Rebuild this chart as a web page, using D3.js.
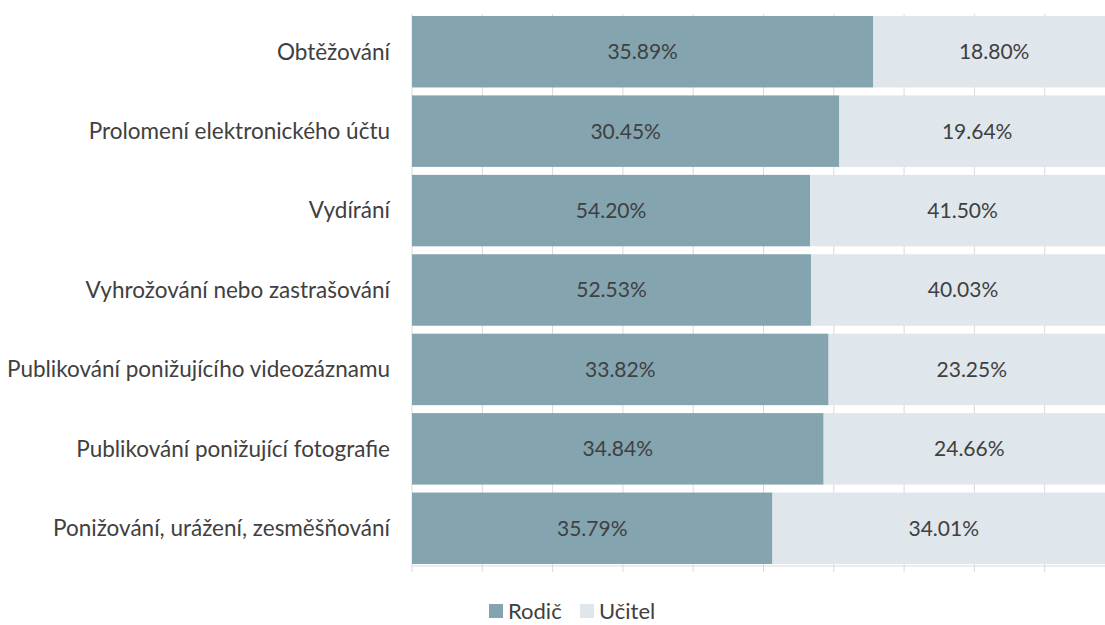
<!DOCTYPE html>
<html>
<head>
<meta charset="utf-8">
<script src="https://cdn.jsdelivr.net/npm/d3@7"></script>
<style>
  body { margin: 0; background: #fff; }
  svg { display: block; overflow: hidden; }
  text { font-family: Lato, "Open Sans", sans-serif; fill: #404040; }
</style>
</head>
<body>
<svg width="1105" height="625"></svg>
<script>
var categories = [
    "Obtěžování",
    "Prolomení elektronického účtu",
    "Vydírání",
    "Vyhrožování nebo zastrašování",
    "Publikování ponižujícího videozáznamu",
    "Publikování ponižující fotografie",
    "Ponižování, urážení, zesměšňování"
];
var rodic = [35.89, 30.45, 54.20, 52.53, 33.82, 34.84, 35.79];
var ucitel = [18.80, 19.64, 41.50, 40.03, 23.25, 24.66, 34.01];
var seriesNames = ["Rodič", "Učitel"];
var colors = ["#84a4b0", "#dfe6ec"];

var svg = d3.select("svg");
var plotLeft = 412, plotRight = 1115, plotTop = 14, plotBottom = 566;

var data = categories.map(function(c, i) {
    var total = rodic[i] + ucitel[i];
    return { cat: c, r: rodic[i], u: ucitel[i], rs: rodic[i] / total, us: ucitel[i] / total };
});

var x = d3.scaleLinear().domain([0, 1]).range([plotLeft, plotRight]);
var y = d3.scaleBand().domain(categories).range([plotTop, plotBottom]).paddingInner(0.1).paddingOuter(0.025);

// gridlines
svg.append("g")
    .selectAll("line")
    .data(d3.range(0, 1.0001, 0.1))
    .enter().append("line")
    .attr("x1", function(d) { return x(d); })
    .attr("x2", function(d) { return x(d); })
    .attr("y1", plotTop)
    .attr("y2", plotBottom + 6)
    .attr("stroke", "#d9d9d9")
    .attr("stroke-width", 1);

svg.append("line")
    .attr("x1", plotLeft).attr("x2", plotRight)
    .attr("y1", plotBottom).attr("y2", plotBottom)
    .attr("stroke", "#d9d9d9");

var rows = svg.append("g").selectAll("g")
    .data(data)
    .enter().append("g");

rows.append("rect")
    .attr("x", x(0))
    .attr("y", function(d) { return y(d.cat); })
    .attr("width", function(d) { return x(d.rs) - x(0); })
    .attr("height", y.bandwidth())
    .attr("fill", colors[0]);

rows.append("rect")
    .attr("x", function(d) { return x(d.rs); })
    .attr("y", function(d) { return y(d.cat); })
    .attr("width", function(d) { return x(1) - x(d.rs); })
    .attr("height", y.bandwidth())
    .attr("fill", colors[1]);

rows.append("text")
    .attr("x", function(d) { return (x(0) + x(d.rs)) / 2; })
    .attr("y", function(d) { return y(d.cat) + y.bandwidth() / 2; })
    .attr("text-anchor", "middle")
    .attr("dy", "0.35em")
    .style("font-size", "21px")
    .text(function(d) { return d.r.toFixed(2) + "%"; });

rows.append("text")
    .attr("x", function(d) { return (x(d.rs) + x(1)) / 2; })
    .attr("y", function(d) { return y(d.cat) + y.bandwidth() / 2; })
    .attr("text-anchor", "middle")
    .attr("dy", "0.35em")
    .style("font-size", "21px")
    .text(function(d) { return d.u.toFixed(2) + "%"; });

rows.append("text")
    .attr("x", plotLeft - 22)
    .attr("y", function(d) { return y(d.cat) + y.bandwidth() / 2; })
    .attr("text-anchor", "end")
    .attr("dy", "0.35em")
    .style("font-size", "22.5px")
    .text(function(d) { return d.cat; });

// legend
var legend = svg.append("g").attr("transform", "translate(489,604)");
var lx = [0, 91];
seriesNames.forEach(function(n, i) {
    legend.append("rect")
        .attr("x", lx[i]).attr("y", 0)
        .attr("width", 14).attr("height", 14)
        .attr("fill", colors[i]);
    legend.append("text")
        .attr("x", lx[i] + 19).attr("y", 15)
        .style("font-size", "22px")
        .text(n);
});
</script>
</body>
</html>
